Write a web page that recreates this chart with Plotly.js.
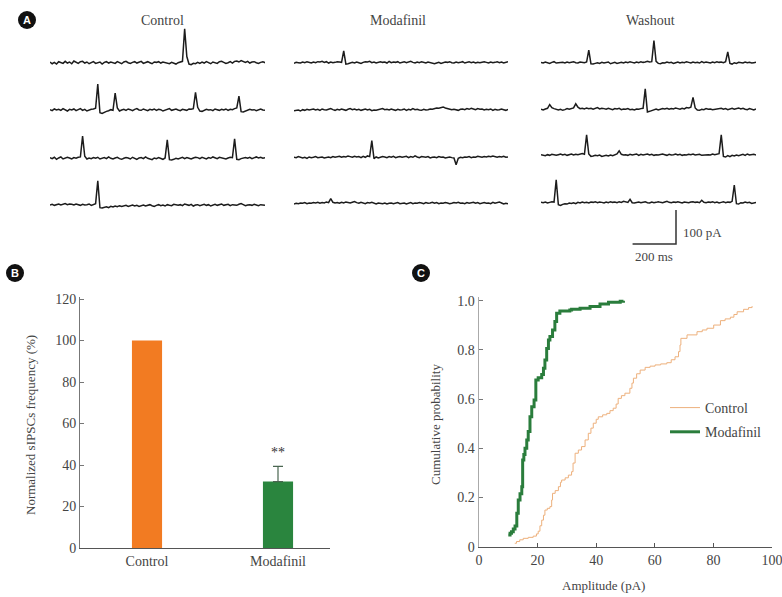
<!DOCTYPE html>
<html><head><meta charset="utf-8">
<script src="https://cdn.plot.ly/plotly-3.0.1.min.js"></script>
<style>html,body{margin:0;padding:0;background:#fff}#chart{width:782px;height:597px}</style>
</head><body><div id="chart"></div>
<script>
// ---------- DATA ----------
// Panel A: sampled current sweeps (pA), 10 ms sampling, 1 s per sweep
const timeMs = [0,10,20,30,40,50,60,70,80,90,100,110,120,130,140,150,160,170,180,190,
200,210,220,230,240,250,260,270,280,290,300,310,320,330,340,350,360,370,380,390,
400,410,420,430,440,450,460,470,480,490,500,510,520,530,540,550,560,570,580,590,
600,610,620,630,640,650,660,670,680,690,700,710,720,730,740,750,760,770,780,790,
800,810,820,830,840,850,860,870,880,890,900,910,920,930,940,950,960,970,980,990];

const ctl1 = [2,-3,1,-4,3,0,-2,4,-1,2, -3,5,1,-2,3,4,-1,2,-3,1, 3,-2,0,2,-4,1,3,-1,2,0, -2,3,1,-3,2,4,0,-2,1,3,
-1,2,4,-2,1,3,0,-3,2,1, 3,-1,2,0,-2,-3,1,-2,-4,0, 2,4,100,18,-4,-6,-2,-3,1,-2, 2,-1,3,0,-3,2,1,-2,3,4,
1,-2,0,3,-1,4,5,2,6,3, 1,4,-1,2,3,0,-2,1,3,0];
const ctl2 = [1,-2,3,0,2,-1,4,1,-3,2, 0,3,-2,1,4,-1,2,-3,0,2, 3,5,76,-8,-10,-6,-4,-2,1,-1, 50,6,-3,0,2,-1,3,1,-2,2,
4,0,-1,3,1,-2,2,0,3,-1, 2,1,-3,0,2,4,-1,1,3,0, -2,2,1,-1,3,2,4,52,8,-3, -4,-1,2,0,1,-2,3,1,-1,2,
0,3,-1,2,1,4,6,41,-5,-6, -3,-1,2,0,1,-2,1,3,0,-1];
const ctl3 = [2,-1,3,-3,1,4,-2,0,3,1, -2,2,0,3,4,65,6,-2,1,-1, 2,0,3,-2,1,2,-1,4,0,-2, 1,3,-1,-3,0,2,1,-2,3,0,
-3,1,2,-1,4,0,-2,-4,1,-1, 2,0,-3,1,54,-4,-5,-3,0,-2, 1,3,-1,2,0,-2,1,3,2,-1, 3,1,-2,2,0,4,1,-1,3,2,
0,-2,1,3,2,57,-3,-4,-1,1, 2,0,3,-1,2,4,1,3,0,2];
const ctl4 = [0,2,-1,1,3,0,2,4,1,3, 2,0,3,1,-1,2,0,1,3,-1, 2,4,71,-8,-9,-7,-5,-8,-4,-6, -3,-5,-2,-4,-3,-1,-4,-2,0,-3,
-1,-4,-2,0,-3,-1,1,-2,-4,-1, 1,-2,0,-3,1,-1,-2,2,0,-1, 1,-2,3,0,-1,2,-3,0,1,-2, 0,2,-1,1,-3,0,2,-1,1,3,
-1,0,2,-2,1,0,-1,2,4,1, -2,0,1,-1,2,0,-2,1,0,-1];

const mod1 = [-2,1,0,-1,2,0,3,1,-1,2, 0,3,2,4,1,3,-1,2,0,1, 3,2,1,35,-4,-3,-2,1,-1,2, 0,-2,1,3,2,4,0,2,-1,1,
3,1,2,-1,4,0,2,1,3,-1, 1,3,0,2,4,1,-1,2,0,3, 1,-1,2,0,-2,-3,-1,1,-2,0, 2,1,3,0,-1,2,0,1,3,-1,
1,3,0,2,-1,1,0,2,3,1, -1,2,0,1,3,0,2,-1,1,3];
const mod2 = [-2,-1,0,-3,1,-1,2,0,1,3, 0,2,-1,3,1,0,2,4,1,-1, 2,0,3,1,-1,2,4,1,3,0, 2,-1,1,3,0,2,-2,0,-1,1,
3,4,1,2,0,3,1,-1,2,0, 1,3,-1,2,0,4,1,2,0,-1, 2,0,1,3,2,4,6,5,7,9, 6,4,3,1,2,0,-1,2,3,1,
4,2,5,3,1,4,2,3,0,2, 1,3,-1,2,0,1,3,1,-1,2];
const mod3 = [0,-1,2,1,-2,0,-3,1,-1,0, 2,-1,0,1,-2,0,1,-1,2,0, 1,3,0,2,1,4,2,0,3,1, 2,-1,3,0,4,2,49,-4,1,-2,
0,2,1,-1,2,0,3,-1,1,2, 0,1,3,-1,2,0,4,1,-1,2, 1,0,2,-2,0,1,-1,2,0,1, -2,0,1,-1,-2,-22,-3,0,-1,1,
0,2,-1,1,0,3,1,0,2,1, 3,2,4,1,0,2,1,3,0,1];
const mod4 = [-2,0,-1,1,0,2,-1,1,0,2, 1,3,0,2,1,4,2,14,3,1, 2,0,3,1,4,2,1,3,5,2, 0,3,1,-1,2,1,3,0,-2,1,
0,-1,1,-2,0,1,-1,0,2,-1, 0,1,-2,0,2,-1,1,0,2,1, -1,2,0,1,3,0,2,-1,1,0, 2,1,-1,0,2,1,3,0,1,-1,
2,0,1,3,0,2,-1,1,2,0, 1,-1,3,0,2,4,1,-2,0,-1];

const wsh1 = [1,-1,2,0,-2,1,3,-1,0,2, 1,-1,2,0,1,3,0,-1,2,1, 0,2,37,-3,-4,-2,0,-2,1,-1, 0,2,-3,-1,1,-2,0,1,-1,2,
0,3,1,-1,2,0,3,1,2,4, 2,3,65,4,-2,-3,0,-1,2,0, 1,-2,0,2,-1,1,0,3,1,-1, 2,0,1,-1,3,0,2,1,-1,2,
0,3,1,2,0,3,32,-2,-4,0, -2,1,0,-1,2,0,1,-1,0,1];
const wsh2 = [0,-2,1,3,14,5,2,-1,-2,0, -3,-1,2,0,1,4,16,6,2,3, 1,4,2,3,0,2,5,1,3,2, 0,3,1,-1,2,1,3,-1,1,0,
2,-1,0,-2,1,0,2,3,60,-8, -6,-3,-1,1,-2,0,2,1,3,0, 2,1,4,2,0,3,1,5,4,6, 35,4,-2,-3,0,-1,2,0,1,-1,
0,2,1,3,0,2,-1,1,3,0, 2,4,1,3,0,-1,2,0,-2,1];
const wsh3 = [1,0,-2,1,-1,2,0,-1,1,3, 0,2,-1,1,3,0,2,1,3,4, 2,59,3,-4,-3,-1,-2,0,-4,-2, -1,-3,0,-2,1,3,12,2,0,1,
-1,2,0,1,3,-1,2,0,1,3, 0,2,-1,1,0,2,3,1,-1,2, 0,1,3,0,2,-1,1,0,2,1, 3,0,1,2,-1,0,2,1,0,3,
1,2,4,59,-4,-6,-2,-5,-1,-3, 0,-2,1,2,-1,3,0,1,2,0];
const wsh4 = [1,0,2,-1,1,3,2,67,-6,-8, -5,-3,-4,-1,-2,0,-3,1,-1,2, 0,1,-1,2,1,3,0,2,1,-1, 2,0,3,1,2,0,3,1,4,2,
1,10,0,-1,1,2,0,1,3,0, -1,2,0,1,3,1,0,2,4,1, 0,2,1,3,0,-1,2,1,0,2, 3,1,2,0,7,1,0,2,1,3,
0,2,-1,1,3,0,2,1,4,52, -3,-4,0,-1,2,0,1,-2,0,1];

const conditions = ['Control', 'Modafinil', 'Washout'];
const controlSweeps = [ctl1, ctl2, ctl3, ctl4];
const modafinilSweeps = [mod1, mod2, mod3, mod4];
const washoutSweeps = [wsh1, wsh2, wsh3, wsh4];
const scaleMs = 200;   // scale bar, ms
const scalePa = 100;   // scale bar, pA

// Panel B
const barCats = ['Control', 'Modafinil'];
const barMeans = [100, 32];
const barSem = [0, 7.3];
const sigLabel = '**';

// Panel C: cumulative amplitude distributions
const ctlAmp = [12.2,12.8,13.9,15.1,16.8,18.5,19.6,20.2,20.8,21.4,22.0,22.5,23.3,24.2,24.8,25.1,26.0,27.1,27.8,28.2,
29.4,30.5,31.6,32.1,32.8,33.9,35.0,36.2,37.3,38.2,39.0,40.0,40.7,42.2,43.6,44.7,45.8,46.8,47.5,48.6,
49.8,51.5,52.2,52.7,53.8,55.0,56.7,58.4,60.1,62.0,64.1,65.6,66.9,68.1,68.6,68.9,71.0,74.4,76.2,77.8,
80.1,82.4,84.0,85.8,87.0,88.1,90.3,92.0,93.2];
const ctlProb = [0.014,0.021,0.028,0.034,0.038,0.043,0.052,0.063,0.085,0.108,0.128,0.149,0.156,0.163,0.190,0.217,0.228,0.244,0.262,0.271,
0.280,0.291,0.305,0.340,0.380,0.393,0.407,0.434,0.461,0.482,0.502,0.518,0.528,0.536,0.542,0.553,0.563,0.580,0.603,0.614,
0.624,0.644,0.665,0.685,0.703,0.718,0.729,0.734,0.739,0.743,0.748,0.760,0.772,0.793,0.820,0.847,0.861,0.874,0.881,0.888,
0.901,0.919,0.926,0.933,0.944,0.955,0.965,0.972,0.978];
const modAmp = [10.0,10.6,11.1,11.7,12.3,12.9,13.4,14.0,14.6,14.9,15.3,15.7,16.3,16.8,17.4,18.0,18.8,19.4,20.2,21.4,
22.0,22.5,23.1,23.7,24.2,25.1,25.9,26.5,27.6,31.0,31.6,34.5,37.9,41.3,44.2,48.2,49.3];
const modProb = [0.048,0.055,0.061,0.072,0.084,0.136,0.190,0.215,0.244,0.352,0.375,0.400,0.434,0.468,0.528,0.569,0.596,0.678,0.687,0.700,
0.725,0.759,0.806,0.840,0.854,0.881,0.915,0.949,0.958,0.962,0.965,0.969,0.976,0.987,0.994,0.998,1.000];

// ---------- LAYOUT HELPERS ----------
const W = 782, H = 597;
const fx = px => px / W;
const fy = py => 1 - py / H;
const SERIF = 'Liberation Serif, Times New Roman, serif';
const TXT = '#444';

const colX = [[50, 265], [294, 508], [541, 756]];
const rowBase = [[62.7, 110, 158.3, 205], [62.7, 110, 157.3, 203.3], [62.7, 109.3, 155, 202.7]];
const pxPerPa = 0.34;
const yLo = -30, yHi = 110;
const sweepSets = [controlSweeps, modafinilSweeps, washoutSweeps];

const data = [];
const layout = {
  width: W, height: H, autosize: false,
  margin: {l: 0, r: 0, t: 0, b: 0},
  paper_bgcolor: '#fff', plot_bgcolor: 'rgba(0,0,0,0)',
  showlegend: true,
  barmode: 'overlay',
  font: {family: SERIF, color: TXT, size: 14},
  annotations: [], shapes: []
};
const hidden = {visible: false, fixedrange: true};

let k = 0;
for (let c = 0; c < 3; c++) {
  for (let r = 0; r < 4; r++) {
    k++;
    const sx = k === 1 ? '' : String(k);
    const base = rowBase[c][r];
    layout['xaxis' + sx] = Object.assign({}, hidden, {domain: [fx(colX[c][0]), fx(colX[c][1])], range: [timeMs[0], timeMs[timeMs.length - 1]], anchor: 'y' + sx});
    layout['yaxis' + sx] = Object.assign({}, hidden, {domain: [fy(base - yLo * pxPerPa), fy(base - yHi * pxPerPa)], range: [yLo, yHi], anchor: 'x' + sx});
    data.push({type: 'scatter', mode: 'lines', x: timeMs, y: sweepSets[c][r], xaxis: 'x' + sx, yaxis: 'y' + sx,
      line: {color: '#1c1c1c', width: 1.5}, showlegend: false, hoverinfo: 'skip'});
  }
}

// scale bar axes (13): corner at px (676, 244)
const pxPerMs = (colX[2][1] - colX[2][0]) / (timeMs[timeMs.length - 1] - timeMs[0]);
const sbCx = 676, sbCy = 244;
layout.xaxis13 = Object.assign({}, hidden, {domain: [fx(600), fx(720)], range: [(600 - sbCx) / pxPerMs, (720 - sbCx) / pxPerMs], anchor: 'y13'});
layout.yaxis13 = Object.assign({}, hidden, {domain: [fy(265), fy(195)], range: [(sbCy - 265) / pxPerPa, (sbCy - 195) / pxPerPa], anchor: 'x13'});
data.push({type: 'scatter', mode: 'lines', x: [-scaleMs, 0, 0], y: [0, 0, scalePa], xaxis: 'x13', yaxis: 'y13',
  line: {color: '#333', width: 1.5}, showlegend: false, hoverinfo: 'skip'});
layout.annotations.push({xref: 'x13', yref: 'y13', x: 0, y: scalePa * 0.35, text: scalePa + ' pA', showarrow: false,
  xanchor: 'left', yanchor: 'middle', xshift: 5, font: {family: SERIF, size: 13, color: TXT}});
layout.annotations.push({xref: 'x13', yref: 'y13', x: -scaleMs / 2, y: 0, text: scaleMs + ' ms', showarrow: false,
  xanchor: 'center', yanchor: 'top', yshift: -3, font: {family: SERIF, size: 13, color: TXT}});

// condition labels
const condX = [162, 398, 650];
conditions.forEach((t, i) => layout.annotations.push({xref: 'paper', yref: 'paper', x: fx(condX[i]), y: fy(20), text: t,
  showarrow: false, xanchor: 'center', yanchor: 'middle', font: {family: SERIF, size: 14, color: TXT}}));

// ---------- PANEL B (14) ----------
const bPx = 131, bL = 80, bR = 330, bC0 = 147;
layout.xaxis14 = {domain: [fx(bL), fx(bR)], anchor: 'y14', type: 'category', categoryorder: 'array', categoryarray: barCats,
  range: [-(bC0 - bL) / bPx, (bR - bC0) / bPx], showline: true, linecolor: '#555', linewidth: 1, ticks: '', showgrid: false,
  zeroline: false, tickfont: {family: SERIF, size: 14, color: TXT}, fixedrange: true};
layout.yaxis14 = {domain: [fy(548), fy(297)], anchor: 'x14', range: [0, (548 - 297) / 2.075], tickvals: [0, 20, 40, 60, 80, 100, 120],
  showline: true, linecolor: '#777', linewidth: 1, ticks: 'inside', ticklen: 4, tickcolor: '#777', showgrid: false, zeroline: false,
  tickfont: {family: SERIF, size: 14, color: TXT}, fixedrange: true};
data.push({type: 'bar', x: [barCats[0]], y: [barMeans[0]], xaxis: 'x14', yaxis: 'y14', width: 0.23,
  marker: {color: '#F27B22', line: {width: 0}}, showlegend: false, hoverinfo: 'skip'});
data.push({type: 'bar', x: [barCats[1]], y: [barMeans[1]], xaxis: 'x14', yaxis: 'y14', width: 0.23,
  marker: {color: '#2A853E', line: {width: 0}}, showlegend: false, hoverinfo: 'skip',
  error_y: {type: 'data', symmetric: false, array: [barSem[1]], arrayminus: [0], width: 5, thickness: 1.2, color: '#4a6650'}});
layout.annotations.push({xref: 'x14', yref: 'y14', x: barCats[1], y: barMeans[1] + barSem[1], text: sigLabel, showarrow: false,
  xanchor: 'center', yanchor: 'bottom', yshift: 4, font: {family: SERIF, size: 14, color: '#333'}});
layout.annotations.push({xref: 'paper', yref: 'paper', x: fx(30), y: fy(425), text: 'Normalized sIPSCs frequency (%)',
  textangle: -90, showarrow: false, xanchor: 'center', yanchor: 'middle', font: {family: SERIF, size: 13, color: TXT}});

// ---------- PANEL C (15) ----------
const cY0 = 546.7, cPx = 246;
layout.xaxis15 = {domain: [fx(479), fx(772)], anchor: 'y15', range: [0, 100], tickvals: [0, 20, 40, 60, 80, 100],
  showline: true, linecolor: '#555', linewidth: 1, ticks: 'inside', ticklen: 4, tickcolor: '#555', showgrid: false, zeroline: false,
  ticklabeloverflow: 'allow', tickfont: {family: SERIF, size: 14, color: TXT}, fixedrange: true};
layout.yaxis15 = {domain: [fy(cY0), fy(297)], anchor: 'x15', range: [0, (cY0 - 297) / cPx],
  tickvals: [0, 0.2, 0.4, 0.6, 0.8, 1.0], ticktext: ['0', '0.2', '0.4', '0.6', '0.8', '1.0'],
  showline: true, linecolor: '#aaa', linewidth: 1.5, ticks: 'inside', ticklen: 4, tickcolor: '#777', showgrid: false, zeroline: false,
  tickfont: {family: SERIF, size: 14, color: TXT}, fixedrange: true};
data.push({type: 'scatter', mode: 'lines', x: ctlAmp, y: ctlProb, xaxis: 'x15', yaxis: 'y15', name: 'Control',
  legendgroup: 'a', line: {color: '#EDB07C', width: 1, shape: 'hv'}, hoverinfo: 'skip'});
data.push({type: 'scatter', mode: 'lines', x: modAmp, y: modProb, xaxis: 'x15', yaxis: 'y15', name: 'Modafinil',
  legendgroup: 'b', line: {color: '#2A7D3C', width: 3, shape: 'hv'}, hoverinfo: 'skip'});
layout.legend = {x: fx(665), y: fy(392), xanchor: 'left', yanchor: 'top', bgcolor: 'rgba(0,0,0,0)',
  font: {family: SERIF, size: 14, color: TXT}, traceorder: 'grouped', tracegroupgap: 3};
layout.annotations.push({xref: 'paper', yref: 'paper', x: fx(435), y: fy(425), text: 'Cumulative probability',
  textangle: -90, showarrow: false, xanchor: 'center', yanchor: 'middle', font: {family: SERIF, size: 13, color: TXT}});
layout.annotations.push({xref: 'paper', yref: 'paper', x: fx(603), y: fy(585), text: 'Amplitude (pA)',
  showarrow: false, xanchor: 'center', yanchor: 'middle', font: {family: SERIF, size: 13, color: TXT}});

// ---------- PANEL LETTERS ----------
const letters = [['A', 27, 20], ['B', 15, 273], ['C', 421, 273]];
const rad = 9;
letters.forEach(([t, cx, cy]) => {
  layout.shapes.push({type: 'circle', xref: 'paper', yref: 'paper', x0: fx(cx - rad), x1: fx(cx + rad), y0: fy(cy + rad), y1: fy(cy - rad),
    fillcolor: '#111', line: {width: 0}});
  layout.annotations.push({xref: 'paper', yref: 'paper', x: fx(cx), y: fy(cy), text: '<b>' + t + '</b>', showarrow: false,
    xanchor: 'center', yanchor: 'middle', font: {family: 'Liberation Sans, Arial, sans-serif', size: 11, color: '#fff'}});
});

Plotly.newPlot('chart', data, layout, {staticPlot: true, displayModeBar: false});
</script>
</body></html>
